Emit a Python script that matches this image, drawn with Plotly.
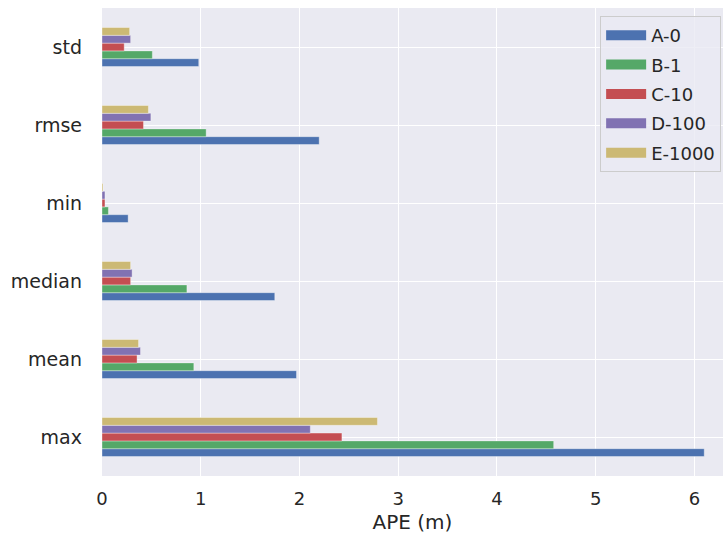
import plotly.graph_objects as go

categories = ["max", "mean", "median", "min", "rmse", "std"]
series_names = ["A-0", "B-1", "C-10", "D-100", "E-1000"]
a0 = [6.10, 1.97, 1.75, 0.265, 2.20, 0.98]
b1 = [4.575, 0.93, 0.86, 0.065, 1.055, 0.51]
c10 = [2.43, 0.355, 0.29, 0.03, 0.42, 0.225]
d100 = [2.11, 0.39, 0.305, 0.03, 0.495, 0.29]
e1000 = [2.79, 0.37, 0.29, 0.01, 0.47, 0.28]
colors = ["#4C72B0", "#55A868", "#C44E52", "#8172B2", "#CCB974"]
values = [a0, b1, c10, d100, e1000]
x_ticks = [0, 1, 2, 3, 4, 5, 6]

fig = go.Figure()
for name, vals, col in zip(series_names, values, colors):
    fig.add_trace(go.Bar(
        y=categories, x=vals, name=name, orientation="h",
        legendgroup=name, showlegend=False,
        marker=dict(color=col, line=dict(color="rgba(255,255,255,0.6)", width=0.6)),
    ))
# legend entries drawn as wide patches
for name, col in zip(series_names, colors):
    fig.add_trace(go.Scatter(
        x=[None], y=[None], mode="lines", name=name, legendgroup=name,
        line=dict(color=col, width=11), showlegend=True, hoverinfo="skip",
    ))

font_color = "#262626"
fig.update_layout(
    width=724, height=543,
    margin=dict(l=102, r=1, t=8, b=67),
    paper_bgcolor="white",
    plot_bgcolor="#EAEAF2",
    barmode="group", bargap=0.5, bargroupgap=0,
    font=dict(family="DejaVu Sans", size=18, color=font_color),
    showlegend=True,
    legend=dict(
        x=0.997, y=0.983, xanchor="right", yanchor="top",
        bgcolor="rgba(234,234,242,0.8)", bordercolor="#CCCCCC", borderwidth=1,
        font=dict(size=18, color=font_color), traceorder="grouped",
        tracegroupgap=3, itemwidth=40,
    ),
    xaxis=dict(
        range=[0, 6.29], tickvals=x_ticks, showgrid=True, gridcolor="white",
        gridwidth=1.2, zeroline=False, showline=False, ticks="",
        ticklabelstandoff=10,
        title=dict(text="APE (m)", font=dict(size=20, color=font_color), standoff=6),
        tickfont=dict(size=18, color=font_color),
    ),
    yaxis=dict(
        categoryorder="array", categoryarray=categories,
        range=[-0.5, 5.5], showgrid=True, gridcolor="white", gridwidth=1.2,
        zeroline=False, showline=False, ticks="", ticklabelstandoff=19,
        tickfont=dict(size=19, color=font_color),
    ),
)

fig.write_html("out.html")
